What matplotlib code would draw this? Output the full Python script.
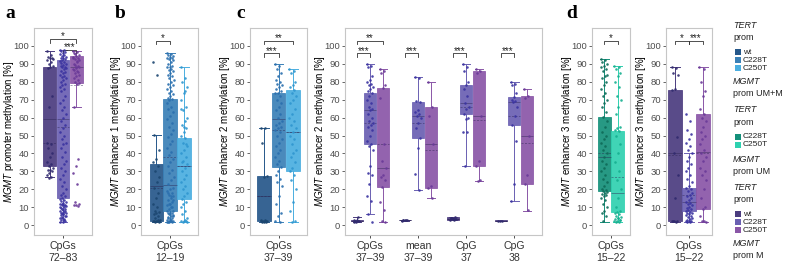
import numpy as np
import matplotlib
matplotlib.use("Agg")
import matplotlib.pyplot as plt
from matplotlib.patches import Rectangle

plt.rcParams["font.family"] = ["Liberation Sans", "DejaVu Sans"]
plt.rcParams["mathtext.fontset"] = "custom"
plt.rcParams["mathtext.it"] = "Liberation Sans:italic"
plt.rcParams["mathtext.rm"] = "Liberation Sans"

# ---------------- data ----------------
groups3 = ["wt", "C228T", "C250T"]

# panel a: MGMT promoter, CpGs 72-83 (MGMT UM+M)
a_q1 = [33, 15, 79.5]; a_q3 = [88.5, 92, 94.5]; a_med = [59, 59, 88]; a_mean = [46, 55, 78]
a_lo = [27, 2, 66]; a_hi = [97, 98, 97]
a_pts = [
    [97, 95, 94, 93.5, 93, 92, 91, 90, 89, 88, 87.5, 72, 66, 46, 45, 43, 40, 38, 35, 34, 33, 32, 31, 30.5, 30, 29, 28, 27, 26.5, 92.5],
    [98, 97.5, 97, 96.5, 96, 95.5, 95, 94.5, 94, 93.5, 93, 92.5, 92, 91.5, 91, 90.5, 90, 89.5, 89, 88.5, 88, 87.5, 87, 86, 85.5, 85, 84, 83,
     82.5, 82, 81, 80, 79, 78, 77, 76, 75, 72, 70, 68, 66, 64, 62, 60, 58, 56, 54, 52, 50, 48, 46, 45, 43, 41, 38, 36, 34, 32, 30, 28, 26,
     24, 22, 20, 18, 17, 16, 15, 14.5, 14, 13.5, 13, 12.5, 12, 11.5, 11, 10.5, 10, 9.5, 9, 8.5, 8, 7.5, 7, 6.5, 6, 5.5, 5, 4.5, 4, 3.5, 3,
     2.5, 2, 2, 3, 4, 5, 6, 7, 8, 9, 10, 11, 12],
    [97, 96.5, 96, 95, 94.5, 94, 93, 92.5, 92, 91, 90, 89, 88, 87, 86, 85, 84, 83, 82, 81, 80, 79.5, 79, 66, 37, 33, 29, 23, 13, 12, 11,
     11.5, 10.5, 95.5, 93.5, 91.5, 89.5, 88.5, 87.5, 86.5, 85.5],
]

# panel b: enhancer 1, CpGs 12-19
b_q1 = [2.5, 8, 14.5]; b_q3 = [34, 70.5, 48.5]; b_med = [22, 22.5, 33]; b_mean = [21, 38, 33]
b_lo = [2, 2, 2]; b_hi = [50.5, 96, 88.5]
b_pts = [
    [91, 84, 50.5, 42, 37, 35, 33, 30, 27, 24, 21, 18, 15, 12, 10, 8, 7.5, 7, 6, 5, 4, 3, 2.5, 2.5, 2.5, 2.5, 2.5, 3, 2, 2],
    [96, 95.5, 95, 94.5, 94, 93.5, 93, 92.5, 92, 91, 90, 89, 88.5, 88, 87, 86.5, 86, 85, 84, 83, 82, 81, 80, 79, 78, 77, 76, 75, 74, 73,
     72, 71, 70.5, 70, 68, 66, 65, 63, 61, 59, 57, 55, 53, 51, 49, 47, 45, 43, 41, 39, 37, 35, 33, 31, 29, 27, 25, 23, 21, 20, 19, 18, 17,
     16, 15, 14, 13, 12, 11, 10, 9, 8, 7.5, 7, 6.5, 6, 5.5, 5, 4.5, 4, 3.5, 3, 2.5, 2.5, 2.5, 2.5, 2, 2, 2, 2, 3, 4, 5, 6, 8, 10, 12, 14,
     16, 18],
    [88.5, 82, 80, 77, 74, 70, 66, 64, 60, 58, 56, 54, 52, 50, 48.5, 46, 44, 42, 40, 38, 36, 34, 32, 30, 28, 26, 24, 22, 20, 18, 16, 14.5,
     13, 12, 10, 8, 6, 4, 2.5, 2.5, 2.5, 2, 2, 3, 35, 45, 55, 65, 75],
]

# panel c (left): enhancer 2, CpGs 37-39
c1_q1 = [2.5, 32.5, 30]; c1_q3 = [27.5, 73.5, 75.5]; c1_med = [16, 59, 52]; c1_mean = [16, 53, 52]
c1_lo = [2, 2, 2]; c1_hi = [54, 90, 87]
c1_pts = [
    [54, 54, 46, 27.5, 27, 3, 2.5, 2.5, 2.5, 2.5, 2, 2, 2, 2.5, 3],
    [90, 89, 87, 85, 83, 81, 80, 79, 78, 77, 76, 75, 74, 73.5, 72, 70, 68, 66, 64, 62, 60, 58, 57, 56, 55, 54, 53, 52, 50, 48, 46, 44, 42,
     40, 38, 36, 34, 32.5, 30, 28, 26, 24, 22, 16, 12, 7, 5, 2.5, 2],
    [87, 86, 85, 80, 78, 77, 75.5, 74, 72, 70, 68, 65, 62, 60, 58, 56, 54, 52, 50, 48, 45, 42, 40, 38, 35, 32, 30, 28, 25, 20, 13, 8,
     2.5, 2],
]

# panel c (right): enhancer 2 in MGMT M, four positions
c2_cats = ["CpGs\n37\u201339", "mean\n37\u201339", "CpG\n37", "CpG\n38"]
c2_q1 = [[2.3, 45.5, 21.5], [2.6, 48.5, 20.5], [3, 62, 33], [2.4, 56, 23]]
c2_q3 = [[2.7, 74, 76.5], [3.0, 68.5, 66], [4.5, 78, 86], [2.6, 71.5, 72]]
c2_med = [[2.5, 64, 32], [2.8, 61, 45], [3.5, 68, 61], [2.5, 68.5, 49.5]]
c2_mean = [[2.5, 57, 45], [2.8, 57, 42], [3.5, 66, 58.5], [2.5, 61, 46]]
c2_lo = [[2, 6, 2], [2.5, 19.5, 15], [2.8, 33, 24.5], [2.5, 13.5, 8]]
c2_hi = [[4.5, 90, 87], [3.1, 82.5, 80], [4.5, 90, 87], [2.5, 80, 76]]
c2_pts = [
    [[2, 2.5, 2.5, 2.5, 3, 3, 4.5, 2],
     [90, 89, 88, 83, 81, 80, 79, 78, 77, 76, 75, 74, 72, 70, 68, 66, 65, 64, 62, 60, 58, 57, 56, 55, 53, 50, 47, 45.5, 44, 42, 33, 29,
      28, 23, 16, 13.5, 6, 2],
     [87, 86, 85, 78, 76.5, 71, 45, 36, 32, 28, 27, 25, 21.5, 13, 8.5, 2.5, 2]],
    [[2.5, 2.8, 3, 2.6, 2.9, 3.1],
     [82.5, 82, 69, 68.5, 64, 63, 62, 61, 60, 57, 54, 48.5, 43, 28.5, 19.5],
     [80, 66, 61, 45, 22, 20.5, 15]],
    [[3, 3.5, 4, 4.5, 3.2, 3.8, 2.8, 4.2, 3.5, 3.6],
     [90, 88, 86, 80, 78, 76, 72, 68, 66, 65, 62, 60, 59, 52, 52, 33],
     [87, 86, 85, 61, 36, 33, 25, 24.5]],
    [[2.5, 2.5, 2.5],
     [80, 79, 78, 74, 71.5, 70, 69, 68.5, 66, 61, 56, 47, 23, 13.5],
     [76, 72, 71, 49.5, 28, 23, 8.5]],
]

# panel d (left): enhancer 3, CpGs 15-22, MGMT UM
d1_q1 = [19, 7.5]; d1_q3 = [60.5, 52.5]; d1_med = [38, 18]; d1_mean = [40, 27]
d1_lo = [2, 2]; d1_hi = [92.5, 89]
d1_pts = [
    [92.5, 92, 91, 90, 89, 88, 87, 86, 84, 83, 82, 80, 78, 76, 74, 72, 70, 68, 66, 63, 60.5, 58, 55, 52, 50, 48, 46, 44, 42, 40, 38, 36,
     34, 32, 30, 28, 26, 24, 22, 20, 19.5, 19, 18.5, 18, 17.5, 17, 16, 15, 14, 12, 10, 8, 7, 5, 2.5],
    [89, 88, 87, 85, 83, 80, 77, 72, 70, 66, 62, 55, 54, 53, 52.5, 50, 45, 40, 35, 30, 25, 20, 15, 10, 8, 7.5, 7, 6, 5, 4.5, 4, 3.5, 3,
     2.5, 2.5, 2, 2, 3, 4],
]

# panel d (right): enhancer 3, CpGs 15-22, MGMT M
d2_q1 = [2.5, 8, 9]; d2_q3 = [75.5, 21, 62]; d2_med = [40, 13, 41]; d2_mean = [39, 17, 40]
d2_lo = [2, 2, 2]; d2_hi = [88, 40, 88]
d2_pts = [
    [88, 87.5, 85, 84, 76, 75.5, 49, 40, 28, 15, 2.5, 2.5, 2.5, 2.5, 2],
    [62, 58, 53, 51, 48, 46, 44, 42, 40, 38, 36, 34, 32, 30, 28, 26, 24, 22, 21, 20, 19, 18, 17, 16, 15, 14, 13, 12.5, 12, 11, 10, 9.5,
     9, 8.5, 8, 7.5, 7, 6.5, 6, 5.5, 5, 4.5, 4, 3.5, 3, 2.5, 2.5, 2.5, 2, 2],
    [88, 87, 80, 75, 72, 65, 62, 60, 58, 55, 52, 50, 48, 45, 42, 40, 38, 36, 32, 30, 28, 25, 20, 15, 10, 9, 5, 2.5, 2.5, 2],
]

yticks = [0, 10, 20, 30, 40, 50, 60, 70, 80, 90, 100]

# ---------------- style ----------------
PURP = ["#4b3c7f", "#6a60b2", "#8a56a7"]
PURP_PT = ["#302a6e", "#3a33a0", "#6a3a98"]
BLUE = ["#26578a", "#3a80b7", "#4aaee0"]
BLUE_PT = ["#1c4670", "#2a6fae", "#2f96cf"]
TEAL = ["#14907a", "#2fd1b0"]
TEAL_PT = ["#0e6b58", "#16b090"]

W, H = 788, 264
fig = plt.figure(figsize=(W / 100, H / 100), dpi=100)
TOP, BOT = 28, 235


def mkax(l, r):
    ax = fig.add_axes([l / W, 1 - BOT / H, (r - l) / W, (BOT - TOP) / H])
    ax._wpx = r - l
    return ax


def style(ax, ylabel):
    ax.set_ylim(-5.5, 110)
    ax.set_yticks(yticks)
    ax.tick_params(axis="y", labelsize=6.8, colors="#4d4d4d", length=2.5, width=0.6, pad=1.2)
    ax.tick_params(axis="x", labelsize=7.6, colors="#333333", length=2.5, width=0.6, pad=2)
    for s in ax.spines.values():
        s.set_color("#c6c6c6")
        s.set_linewidth(0.8)
    ax.set_ylabel(ylabel, fontsize=7.0)
    ax.yaxis.set_label_coords(-18.0 / ax._wpx, 0.5)


def draw_boxes(ax, pos, q1, q3, med, mean, lo, hi, pts, cols, ptcols, width, spread):
    for i in range(len(pos)):
        st = [dict(med=med[i], q1=q1[i], q3=q3[i], whislo=lo[i], whishi=hi[i], mean=mean[i], fliers=[])]
        c = cols[i]
        ax.bxp(st, positions=[pos[i]], widths=width, patch_artist=True, showmeans=True, meanline=True,
               showfliers=False, manage_ticks=False,
               boxprops=dict(facecolor=c, edgecolor=c, linewidth=0.6, alpha=0.92),
               medianprops=dict(color="#2a2350", linewidth=0.5, alpha=0.6),
               meanprops=dict(color="#2a2350", linewidth=0.5, linestyle=(0, (3, 2)), alpha=0.6),
               whiskerprops=dict(color=c, linewidth=0.7),
               capprops=dict(color=c, linewidth=0.7), capwidths=width * 0.7)
        p = np.asarray(pts[i], dtype=float)
        n = len(p)
        off = ((np.arange(n) * 0.6180339887) % 1.0 - 0.5) * spread
        ax.scatter(pos[i] + off, p, s=3.4, color=ptcols[i], linewidths=0, zorder=5, alpha=0.9)


def bracket(ax, x1, x2, y, txt, h=2.2):
    ax.plot([x1, x1, x2, x2], [y - h, y, y, y - h], color="#333333", lw=0.6, clip_on=False)
    ax.text((x1 + x2) / 2, y - 1.5, txt, ha="center", va="bottom", fontsize=7, color="#222222")


# ---- panel a ----
ax = mkax(34, 92)
draw_boxes(ax, [-1, 0, 1], a_q1, a_q3, a_med, a_mean, a_lo, a_hi, a_pts, PURP, PURP_PT, 0.97, 0.5)
ax.set_xlim(-2.2, 2.2)
ax.set_xticks([0]); ax.set_xticklabels(["CpGs\n72\u201383"])
style(ax, r"$\it{MGMT}$ promoter methylation [%]")
bracket(ax, -1, 1, 104, "*")
bracket(ax, 0, 1, 98, "***")

# ---- panel b ----
ax = mkax(141, 198)
draw_boxes(ax, [-1, 0, 1], b_q1, b_q3, b_med, b_mean, b_lo, b_hi, b_pts, BLUE, BLUE_PT, 0.97, 0.5)
ax.set_xlim(-2.1, 2.0)
ax.set_xticks([0]); ax.set_xticklabels(["CpGs\n12\u201319"])
style(ax, r"$\it{MGMT}$ enhancer 1 methylation [%]")
bracket(ax, -1, 0, 103, "*")

# ---- panel c left ----
ax = mkax(250, 307)
draw_boxes(ax, [-1, 0, 1], c1_q1, c1_q3, c1_med, c1_mean, c1_lo, c1_hi, c1_pts, BLUE, BLUE_PT, 0.97, 0.5)
ax.set_xlim(-2.0, 2.0)
ax.set_xticks([0]); ax.set_xticklabels(["CpGs\n37\u201339"])
style(ax, r"$\it{MGMT}$ enhancer 2 methylation [%]")
bracket(ax, -1, 1, 103, "**")
bracket(ax, -1, 0, 96, "***")

# ---- panel c right ----
ax = mkax(345, 542)
for g in range(4):
    draw_boxes(ax, [g - 0.27, g, g + 0.27], c2_q1[g], c2_q3[g], c2_med[g], c2_mean[g], c2_lo[g], c2_hi[g],
               c2_pts[g], PURP, PURP_PT, 0.26, 0.13)
    bracket(ax, g - 0.27, g, 96, "***")
bracket(ax, -0.27, 0.27, 103, "**")
ax.set_xlim(-0.52, 3.58)
ax.set_xticks(range(4)); ax.set_xticklabels(c2_cats)
style(ax, r"$\it{MGMT}$ enhancer 2 methylation [%]")

# ---- panel d left ----
ax = mkax(592, 630)
draw_boxes(ax, [-0.5, 0.5], d1_q1, d1_q3, d1_med, d1_mean, d1_lo, d1_hi, d1_pts, TEAL, TEAL_PT, 0.97, 0.5)
ax.set_xlim(-1.4, 1.4)
ax.set_xticks([0]); ax.set_xticklabels(["CpGs\n15\u201322"])
style(ax, r"$\it{MGMT}$ enhancer 3 methylation [%]")
bracket(ax, -0.5, 0.5, 103, "*")

# ---- panel d right ----
ax = mkax(666, 712)
draw_boxes(ax, [-1, 0, 1], d2_q1, d2_q3, d2_med, d2_mean, d2_lo, d2_hi, d2_pts, PURP, PURP_PT, 0.97, 0.5)
ax.set_xlim(-1.65, 1.65)
ax.set_xticks([0]); ax.set_xticklabels(["CpGs\n15\u201322"])
style(ax, r"$\it{MGMT}$ enhancer 3 methylation [%]")
bracket(ax, -1, 0, 103, "*")
bracket(ax, 0, 1, 103, "***")

# ---- panel letters ----
for lab, x in [("a", 5), ("b", 115), ("c", 236), ("d", 566)]:
    fig.text(x / W, 1 - 14 / H, lab, fontsize=14, fontweight="bold", family="Liberation Serif", va="center", ha="left")

# ---- legend ----
LX = 733


def ltxt(y, s, italic=False):
    fig.text(LX / W, 1 - y / H, s, fontsize=6.5, style="italic" if italic else "normal", va="center", ha="left",
             color="#222222")


def lpatch(y, c, s):
    fig.patches.append(Rectangle(((LX + 2) / W, 1 - (y + 3) / H), 6 / W, 6 / H, transform=fig.transFigure,
                                 facecolor=c, edgecolor="none"))
    fig.text((LX + 10) / W, 1 - y / H, s, fontsize=6.0, va="center", ha="left", color="#222222")


ltxt(25, "TERT", True); ltxt(38, "prom")
lpatch(52, BLUE[0], "wt"); lpatch(60, BLUE[1], "C228T"); lpatch(68, BLUE[2], "C250T")
ltxt(81, "MGMT", True); ltxt(94, "prom UM+M")
ltxt(109, "TERT", True); ltxt(123, "prom")
lpatch(137, TEAL[0], "C228T"); lpatch(145, TEAL[1], "C250T")
ltxt(159, "MGMT", True); ltxt(172, "prom UM")
ltxt(187, "TERT", True); ltxt(200, "prom")
lpatch(214, PURP[0], "wt"); lpatch(222, PURP[1], "C228T"); lpatch(230, PURP[2], "C250T")
ltxt(243, "MGMT", True); ltxt(256, "prom M")

fig.savefig("out.png", dpi=100)
